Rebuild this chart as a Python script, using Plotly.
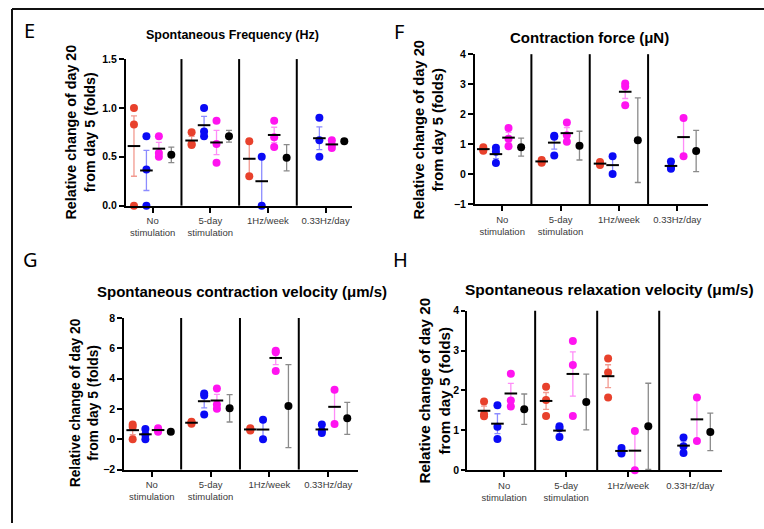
import plotly.graph_objects as go
import numpy as np

# ---------------- data ----------------
GROUPS = ["No<br>stimulation", "5-day<br>stimulation", "1Hz/week", "0.33Hz/day"]

# Panel E: Spontaneous Frequency (Hz)
E_red = [[1.00, 0.83, 0.00], [0.75, 0.63, 0.62], [0.66, 0.30], []]
E_blue = [[0.71, 0.37, 0.00], [1.00, 0.76, 0.71], [0.50, 0.00], [0.90, 0.67, 0.50]]
E_magenta = [[0.71, 0.54, 0.50], [0.87, 0.63, 0.44], [0.87, 0.70, 0.60], [0.67, 0.62, 0.59]]
E_black_mean = [0.52, 0.71, 0.49, 0.66]
E_black_err = [0.08, 0.06, 0.135, 0.02]

# Panel F: Contraction force (uN)
F_red = [[0.90, 0.82, 0.78], [0.47, 0.42, 0.38], [0.40, 0.35, 0.30], []]
F_blue = [[0.88, 0.75, 0.37], [1.28, 1.25, 0.62], [0.60, 0.00], [0.42, 0.22, 0.18]]
F_magenta = [[1.54, 1.18, 0.93], [1.72, 1.30, 1.08], [3.02, 2.92, 2.30], [1.87, 0.60]]
F_black_mean = [0.90, 0.95, 1.13, 0.77]
F_black_err = [0.30, 0.48, 1.41, 0.69]

# Panel G: Spontaneous contraction velocity (um/s)
G_red = [[0.98, 0.82, 0.00], [1.15, 1.10, 1.02], [0.72, 0.64, 0.58], []]
G_blue = [[0.68, 0.30, 0.00], [3.02, 2.88, 1.63], [1.28, 0.00], [0.97, 0.55, 0.42]]
G_magenta = [[0.72, 0.60, 0.50], [3.35, 2.30, 2.02], [5.85, 5.75, 4.50], [3.27, 1.01]]
G_black_mean = [0.50, 2.04, 2.19, 1.38]
G_black_err = [0.05, 0.90, 2.74, 1.06]

# Panel H: Spontaneous relaxation velocity (um/s)
H_red = [[1.72, 1.40, 1.35], [2.09, 1.76, 1.36], [2.80, 2.45, 1.82], []]
H_blue = [[1.63, 1.09, 0.78], [1.10, 1.05, 0.83], [0.56, 0.47, 0.42], [0.82, 0.60, 0.43]]
H_magenta = [[2.42, 1.75, 1.60], [3.24, 2.64, 1.36], [0.98, 0.00], [1.82, 0.73]]
H_black_mean = [1.53, 1.71, 1.10, 0.96]
H_black_err = [0.38, 0.70, 1.08, 0.47]

# ---------------- styling ----------------
W, H = 764, 529
FONT = "Liberation Sans, Arial, sans-serif"
RED, BLUE, MAG, BLACK = "#E8412C", "#0A0AF5", "#FF14F0", "#000000"
RED_L, BLUE_L, MAG_L, GRAY_L = "#F29A90", "#8C8CFF", "#FF8CF8", "#8A8A8A"
PERIOD = 4.63  # slot spacing between groups


def px(x):
    return x / W


def py(y):
    return 1 - y / H


fig = go.Figure()

panels = [
    ("", E_red, E_blue, E_magenta, E_black_mean, E_black_err,
     (126, 352), [-0.64, 17.51], (204.3, 54.3), [0, 1.5], [0, 0.5, 1.0, 1.5], ".1f", 5),
    ("2", F_red, F_blue, F_magenta, F_black_mean, F_black_err,
     (475, 708), [-0.66, 17.83], (202.7, 49.3), [-1, 4], [-1, 0, 1, 2, 3, 4], "d", 5),
    ("3", G_red, G_blue, G_magenta, G_black_mean, G_black_err,
     (124.3, 358.3), [-0.66, 17.76], (474.3, 319.3), [-2, 8], [-2, 0, 2, 4, 6, 8], "d", 5),
    ("4", H_red, H_blue, H_magenta, H_black_mean, H_black_err,
     (467.3, 721.7), [-1.25, 17.74], (475, 311.7), [0, 4], [0, 1, 2, 3, 4], "d", 4),
]

layout_axes = {}
shapes = []
for suf, red, blue, mag, bmean, berr, xd, xr, yd, yr, tv, tf, tl in panels:
    xa, ya = "x" + suf, "y" + suf
    for k, (series, col, lcol) in enumerate([(red, RED, RED_L), (blue, BLUE, BLUE_L), (mag, MAG, MAG_L)]):
        xs, ys, mx, my, me = [], [], [], [], []
        for g, vals in enumerate(series):
            if not vals:
                continue
            xpos = g * PERIOD + k
            xs += [xpos] * len(vals)
            ys += list(vals)
            v = np.array(vals)
            mx.append(xpos)
            my.append(float(v.mean()))
            me.append(float(v.std(ddof=1) / np.sqrt(len(v))))
        # mean +/- SEM bar
        fig.add_trace(go.Scatter(
            x=mx, y=my, mode="markers", xaxis=xa, yaxis=ya, cliponaxis=False,
            marker=dict(size=0.1, color="rgba(0,0,0,0)"),
            error_y=dict(type="data", array=me, visible=True, color=lcol, thickness=1.3, width=3),
            hoverinfo="skip"))
        # individual points
        fig.add_trace(go.Scatter(
            x=xs, y=ys, mode="markers", xaxis=xa, yaxis=ya, cliponaxis=False,
            marker=dict(size=8, color=col, line=dict(width=0))))
        # mean line
        fig.add_trace(go.Scatter(
            x=mx, y=my, mode="markers", xaxis=xa, yaxis=ya, cliponaxis=False,
            marker=dict(symbol="line-ew", size=9, line=dict(width=2, color="black")),
            hoverinfo="skip"))
    # black: overall mean +/- error
    bx = [g * PERIOD + 3 for g in range(len(bmean))]
    fig.add_trace(go.Scatter(
        x=bx, y=bmean, mode="markers", xaxis=xa, yaxis=ya, cliponaxis=False,
        marker=dict(size=8, color=BLACK),
        error_y=dict(type="data", array=berr, visible=True, color=GRAY_L, thickness=1.3, width=3)))

    layout_axes["xaxis" + suf] = dict(
        domain=[px(xd[0]), px(xd[1])], range=xr, anchor=ya,
        showline=True, linecolor="black", linewidth=2,
        ticks="outside", ticklen=5, tickwidth=1.5, tickcolor="black",
        tickvals=[g * PERIOD + 1.5 for g in range(len(GROUPS))], ticktext=GROUPS,
        tickfont=dict(family=FONT, size=9.5, color="#3a3a3a"),
        showgrid=False, zeroline=False, fixedrange=True)
    layout_axes["yaxis" + suf] = dict(
        domain=[py(yd[0]), py(yd[1])], range=yr, anchor=xa,
        showline=True, linecolor="black", linewidth=2,
        ticks="outside", ticklen=tl, tickwidth=1.5, tickcolor="black",
        tickvals=tv, tickformat=tf,
        tickfont=dict(family=FONT, size=10.5, color="black", weight="bold"),
        showgrid=False, zeroline=False, fixedrange=True)
    for g in range(len(GROUPS) - 1):
        xs_ = g * PERIOD + 3 + (PERIOD - 3) / 2
        shapes.append(dict(type="line", xref=xa, yref=ya + " domain", x0=xs_, x1=xs_, y0=0, y1=1,
                           line=dict(color="black", width=2)))

# outer frame (top and left edges of the cropped figure box)
shapes.append(dict(type="line", xref="paper", yref="paper", x0=px(12), x1=px(12), y0=0, y1=py(3),
                   layer="above", line=dict(color="#111", width=2)))
shapes.append(dict(type="line", xref="paper", yref="paper", x0=px(12), x1=1, y0=py(3), y1=py(3),
                   layer="above", line=dict(color="#111", width=2)))

annotations = []
titles = [
    ("Spontaneous Frequency (Hz)", 232, 30, 12.5),
    ("Contraction force (μN)", 589, 32.5, 15),
    ("Spontaneous contraction velocity (μm/s)", 242, 292.5, 15),
    ("Spontaneous relaxation velocity (μm/s)", 609, 290, 15.5),
]
for t, x, y, s in titles:
    annotations.append(dict(text=t, x=px(x), y=py(y), xref="paper", yref="paper",
                            xanchor="center", yanchor="middle", showarrow=False,
                            font=dict(family=FONT, size=s, color="black", weight="bold")))

ytitles = [(81, 129.5, 14.3), (428.5, 127, 14.7), (84, 406.5, 13.8), (435, 393.5, 15.2)]
for x, y, s in ytitles:
    annotations.append(dict(text="Relative change of day 20<br>from day 5 (folds)", x=px(x), y=py(y),
                            xref="paper", yref="paper", xanchor="center", yanchor="middle",
                            textangle=-90, showarrow=False,
                            font=dict(family=FONT, size=s, color="black", weight="bold")))

letters = [("E", 29, 25.5), ("F", 398.5, 26.5), ("G", 30, 259), ("H", 400, 259)]
for t, x, y in letters:
    annotations.append(dict(text=t, x=px(x), y=py(y), xref="paper", yref="paper",
                            xanchor="center", yanchor="middle", showarrow=False,
                            font=dict(family="Noto Sans, sans-serif", size=20, color="black")))

fig.update_layout(
    width=W, height=H, margin=dict(l=0, r=0, t=0, b=0),
    paper_bgcolor="white", plot_bgcolor="white", showlegend=False,
    shapes=shapes, annotations=annotations, **layout_axes)

# remove the browser's default 8px page margin so the figure fills the window exactly
fig.write_html("out.html", config={"displayModeBar": False},
               post_script="document.body.style.margin='0';document.body.style.overflow='hidden';")
